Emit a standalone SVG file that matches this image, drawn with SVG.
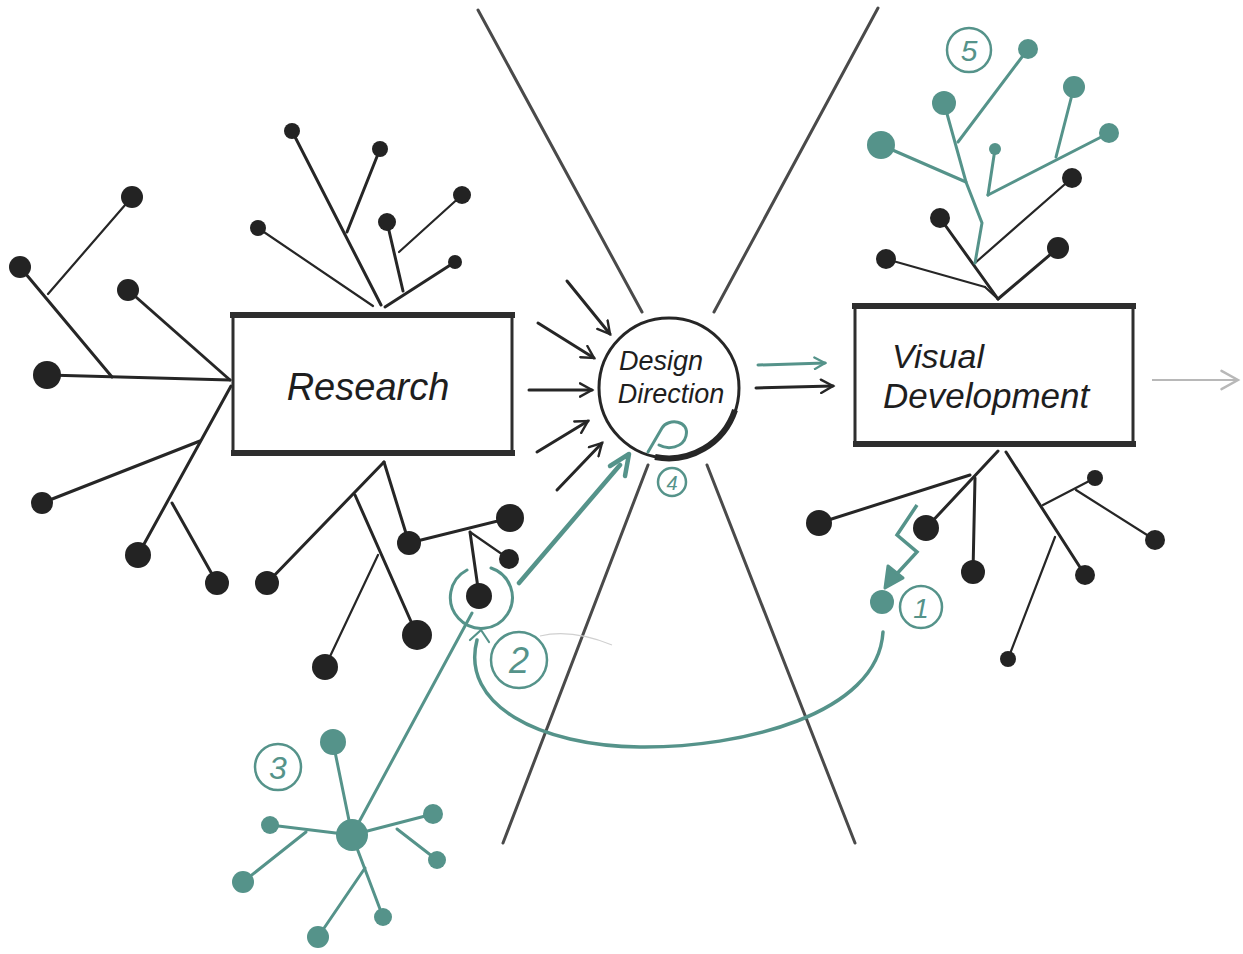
<svg xmlns="http://www.w3.org/2000/svg" width="1243" height="954" viewBox="0 0 1243 954">
<defs>
<style>
.bk{stroke:#262626;stroke-width:3;fill:none;stroke-linecap:round}
.bkt{stroke:#262626;stroke-width:2.2;fill:none;stroke-linecap:round}
.tl{stroke:#55938a;stroke-width:3;fill:none;stroke-linecap:round}
.dk{fill:#232323}
.td{fill:#55938a}
.guide{stroke:#4a4a4a;stroke-width:3;fill:none;stroke-linecap:round}
.box{fill:#fff;stroke:#2e2e2e;stroke-width:3}
.edge{stroke:#2e2e2e;stroke-width:6;stroke-linecap:square}
.hand{font-family:"Liberation Sans","DejaVu Sans",sans-serif;font-style:italic;fill:#1e1e1e}
.num{font-family:"Liberation Sans","DejaVu Sans",sans-serif;font-style:italic;fill:#55938a;text-anchor:middle}
.ring{fill:#fff;stroke:#55938a;stroke-width:2.5}
</style>
<marker id="ah" viewBox="0 0 12 12" refX="10" refY="6" markerWidth="16" markerHeight="16" markerUnits="userSpaceOnUse" orient="auto">
<path d="M1,1 L10,6 L1,11" fill="none" stroke="#262626" stroke-width="1.8" stroke-linecap="round"/>
</marker>
<marker id="aht" viewBox="0 0 12 12" refX="10" refY="6" markerWidth="14" markerHeight="14" markerUnits="userSpaceOnUse" orient="auto">
<path d="M1,1 L10,6 L1,11" fill="none" stroke="#55938a" stroke-width="2" stroke-linecap="round"/>
</marker>
<marker id="ahg" viewBox="0 0 12 12" refX="10" refY="6" markerWidth="22" markerHeight="22" markerUnits="userSpaceOnUse" orient="auto">
<path d="M1,1 L10,6 L1,11" fill="none" stroke="#b8b8b8" stroke-width="1.3" stroke-linecap="round"/>
</marker>
</defs>
<rect width="1243" height="954" fill="#fff"/>

<g id="guides">
<line class="guide" x1="478" y1="10" x2="642" y2="312"/>
<line class="guide" x1="878" y1="8" x2="714" y2="312"/>
<line class="guide" x1="648" y1="465" x2="503" y2="843"/>
<line class="guide" x1="707" y1="465" x2="855" y2="843"/>
<path d="M540,636 C565,630 590,636 612,645" stroke="#d0d0d0" stroke-width="1.2" fill="none"/>
</g>

<g id="connectors">
<line class="bk" x1="230" y1="380" x2="47" y2="375"/>
<line class="bk" x1="112" y1="377" x2="20" y2="267"/>
<line class="bkt" x1="48" y1="294" x2="132" y2="197"/>
<line class="bk" x1="230" y1="380" x2="128" y2="290"/>
<line class="bk" x1="231" y1="386" x2="138" y2="555"/>
<line class="bk" x1="200" y1="441" x2="42" y2="503"/>
<line class="bk" x1="172" y1="503" x2="217" y2="583"/>
<line class="bkt" x1="373" y1="306" x2="258" y2="228"/>
<line class="bk" x1="381" y1="305" x2="292" y2="131"/>
<line class="bk" x1="347" y1="232" x2="380" y2="149"/>
<line class="bk" x1="403" y1="291" x2="387" y2="222"/>
<line class="bkt" x1="399" y1="252" x2="462" y2="195"/>
<line class="bk" x1="385" y1="307" x2="455" y2="262"/>
<line class="bk" x1="384" y1="462" x2="267" y2="583"/>
<line class="bk" x1="355" y1="495" x2="417" y2="635"/>
<line class="bkt" x1="378" y1="555" x2="325" y2="667"/>
<line class="bk" x1="384" y1="462" x2="409" y2="543"/>
<line class="bk" x1="409" y1="543" x2="510" y2="518"/>
<line class="bk" x1="470" y1="532" x2="479" y2="595"/>
<line class="bkt" x1="470" y1="532" x2="509" y2="559"/>

<line class="bk" x1="567" y1="281" x2="610" y2="334" marker-end="url(#ah)"/>
<line class="bk" x1="538" y1="323" x2="594" y2="358" marker-end="url(#ah)"/>
<line class="bk" x1="529" y1="390" x2="592" y2="390" marker-end="url(#ah)"/>
<line class="bk" x1="537" y1="452" x2="588" y2="421" marker-end="url(#ah)"/>
<line class="bk" x1="557" y1="490" x2="602" y2="443" marker-end="url(#ah)"/>

<line class="tl" x1="758" y1="365" x2="825" y2="363" marker-end="url(#aht)"/>
<line class="bk" x1="756" y1="388" x2="833" y2="386" marker-end="url(#ah)"/>
<line x1="1152" y1="380" x2="1238" y2="380" stroke="#b8b8b8" stroke-width="2" marker-end="url(#ahg)"/>

<line class="bk" x1="998" y1="299" x2="1058" y2="248"/>
<line class="bkt" x1="998" y1="299" x2="985" y2="287"/>
<line class="bkt" x1="985" y1="287" x2="886" y2="259"/>
<line class="bk" x1="998" y1="299" x2="940" y2="218"/>
<line class="bkt" x1="975" y1="263" x2="1072" y2="178"/>
<polyline class="tl" points="975,263 982,223 966,182 944,103"/>
<line class="tl" x1="966" y1="182" x2="881" y2="145"/>
<line class="tl" x1="958" y1="142" x2="1028" y2="49"/>
<line class="tl" x1="988" y1="195" x2="995" y2="149"/>
<line class="tl" x1="988" y1="195" x2="1109" y2="133"/>
<line class="tl" x1="1056" y1="157" x2="1074" y2="87"/>

<line class="bk" x1="998" y1="451" x2="926" y2="528"/>
<line class="bk" x1="970" y1="475" x2="819" y2="523"/>
<line class="bk" x1="975" y1="478" x2="973" y2="572"/>
<line class="bk" x1="1006" y1="452" x2="1085" y2="575"/>
<line class="bkt" x1="1043" y1="505" x2="1095" y2="478"/>
<line class="bkt" x1="1076" y1="490" x2="1155" y2="540"/>
<line class="bkt" x1="1055" y1="537" x2="1008" y2="659"/>

<polyline points="917,505 897,535 917,552 893,578" fill="none" stroke="#55938a" stroke-width="3.5" stroke-linejoin="miter"/>
<polygon points="885,588 888,566 903,578" fill="#55938a" stroke="#55938a" stroke-width="3" stroke-linejoin="round"/>
<path d="M883,632 C878,715 740,748 640,747 C540,746 460,705 477,640" fill="none" stroke="#55938a" stroke-width="3.5" stroke-linecap="round"/>
<path d="M470,640 L481,630 L489,642" fill="none" stroke="#55938a" stroke-width="2.2" stroke-linecap="round" stroke-linejoin="round"/>
<line class="tl" x1="472" y1="613" x2="352" y2="835"/>
<line x1="519" y1="583" x2="620" y2="465" stroke="#55938a" stroke-width="4.5" stroke-linecap="round"/>
<path d="M610,466 L629,454 L625,476" fill="none" stroke="#55938a" stroke-width="4.5" stroke-linecap="round" stroke-linejoin="round"/>

<line class="tl" x1="352" y1="835" x2="333" y2="742"/>
<line class="tl" x1="352" y1="835" x2="270" y2="825"/>
<line class="tl" x1="306" y1="832" x2="243" y2="882"/>
<line class="tl" x1="352" y1="835" x2="433" y2="814"/>
<line class="tl" x1="397" y1="829" x2="437" y2="860"/>
<line class="tl" x1="352" y1="835" x2="383" y2="917"/>
<line class="tl" x1="365" y1="868" x2="318" y2="937"/>
</g>

<g id="dots-research">
<circle class="dk" cx="47" cy="375" r="14"/>
<circle class="dk" cx="20" cy="267" r="11"/>
<circle class="dk" cx="132" cy="197" r="11"/>
<circle class="dk" cx="128" cy="290" r="11"/>
<circle class="dk" cx="138" cy="555" r="13"/>
<circle class="dk" cx="42" cy="503" r="11"/>
<circle class="dk" cx="217" cy="583" r="12"/>
<circle class="dk" cx="258" cy="228" r="8"/>
<circle class="dk" cx="292" cy="131" r="8"/>
<circle class="dk" cx="380" cy="149" r="8"/>
<circle class="dk" cx="387" cy="222" r="9"/>
<circle class="dk" cx="462" cy="195" r="9"/>
<circle class="dk" cx="455" cy="262" r="7"/>
<circle class="dk" cx="267" cy="583" r="12"/>
<circle class="dk" cx="417" cy="635" r="15"/>
<circle class="dk" cx="325" cy="667" r="13"/>
<circle class="dk" cx="409" cy="543" r="12"/>
<circle class="dk" cx="510" cy="518" r="14"/>
<circle class="dk" cx="509" cy="559" r="10"/>
</g>

<g id="ring2">
<path d="M467,570 A31,31 0 1 0 491,568" fill="none" stroke="#55938a" stroke-width="3" stroke-linecap="round"/>
<circle class="dk" cx="479" cy="596" r="13"/>
</g>

<g id="dots-vd">
<circle class="dk" cx="1058" cy="248" r="11"/>
<circle class="dk" cx="886" cy="259" r="10"/>
<circle class="dk" cx="940" cy="218" r="10"/>
<circle class="dk" cx="1072" cy="178" r="10"/>
<circle class="td" cx="944" cy="103" r="12"/>
<circle class="td" cx="881" cy="145" r="14"/>
<circle class="td" cx="1028" cy="49" r="10"/>
<circle class="td" cx="995" cy="149" r="6"/>
<circle class="td" cx="1109" cy="133" r="10"/>
<circle class="td" cx="1074" cy="87" r="11"/>
<circle class="dk" cx="926" cy="528" r="13"/>
<circle class="dk" cx="819" cy="523" r="13"/>
<circle class="dk" cx="973" cy="572" r="12"/>
<circle class="dk" cx="1085" cy="575" r="10"/>
<circle class="dk" cx="1095" cy="478" r="8"/>
<circle class="dk" cx="1155" cy="540" r="10"/>
<circle class="dk" cx="1008" cy="659" r="8"/>
<circle class="td" cx="882" cy="602" r="12"/>
</g>

<g id="star3">
<circle class="td" cx="352" cy="835" r="16"/>
<circle class="td" cx="333" cy="742" r="13"/>
<circle class="td" cx="270" cy="825" r="9"/>
<circle class="td" cx="243" cy="882" r="11"/>
<circle class="td" cx="433" cy="814" r="10"/>
<circle class="td" cx="437" cy="860" r="9"/>
<circle class="td" cx="383" cy="917" r="9"/>
<circle class="td" cx="318" cy="937" r="11"/>
</g>

<g id="research">
<rect class="box" x="233" y="314" width="279" height="140"/>
<line class="edge" x1="233" y1="315" x2="512" y2="315"/>
<line class="edge" x1="234" y1="453" x2="512" y2="453"/>
<text class="hand" x="368" y="400" font-size="38" text-anchor="middle">Research</text>
</g>

<g id="design-direction">
<circle cx="669" cy="388" r="70" fill="#fff" stroke="#262626" stroke-width="3"/>
<path d="M735,410 A70,70 0 0 1 655,457" fill="none" stroke="#262626" stroke-width="6"/>
<text class="hand" x="661" y="370" font-size="27" text-anchor="middle">Design</text>
<text class="hand" x="671" y="403" font-size="27" text-anchor="middle">Direction</text>
<path d="M648,452 L662,428 C668,418 690,420 686,436 C683,448 668,450 659,445" fill="none" stroke="#55938a" stroke-width="3" stroke-linecap="round"/>
</g>

<g id="visual-development">
<rect class="box" x="855" y="306" width="278" height="139"/>
<line class="edge" x1="855" y1="306" x2="1133" y2="306"/>
<line class="edge" x1="856" y1="444" x2="1133" y2="444"/>
<text class="hand" x="892" y="368" font-size="34">Visual</text>
<text class="hand" x="883" y="408" font-size="35">Development</text>
</g>

<g id="labels">
<circle class="ring" cx="921" cy="607" r="21"/>
<text class="num" x="921" y="618" font-size="28">1</text>
<circle class="ring" cx="519" cy="660" r="28"/>
<text class="num" x="519" y="673" font-size="36">2</text>
<circle class="ring" cx="278" cy="767" r="23"/>
<text class="num" x="278" y="779" font-size="32">3</text>
<circle class="ring" cx="672" cy="482" r="14"/>
<text class="num" x="672" y="490" font-size="20">4</text>
<circle class="ring" cx="969" cy="50" r="22"/>
<text class="num" x="969" y="61" font-size="30">5</text>
</g>
</svg>
